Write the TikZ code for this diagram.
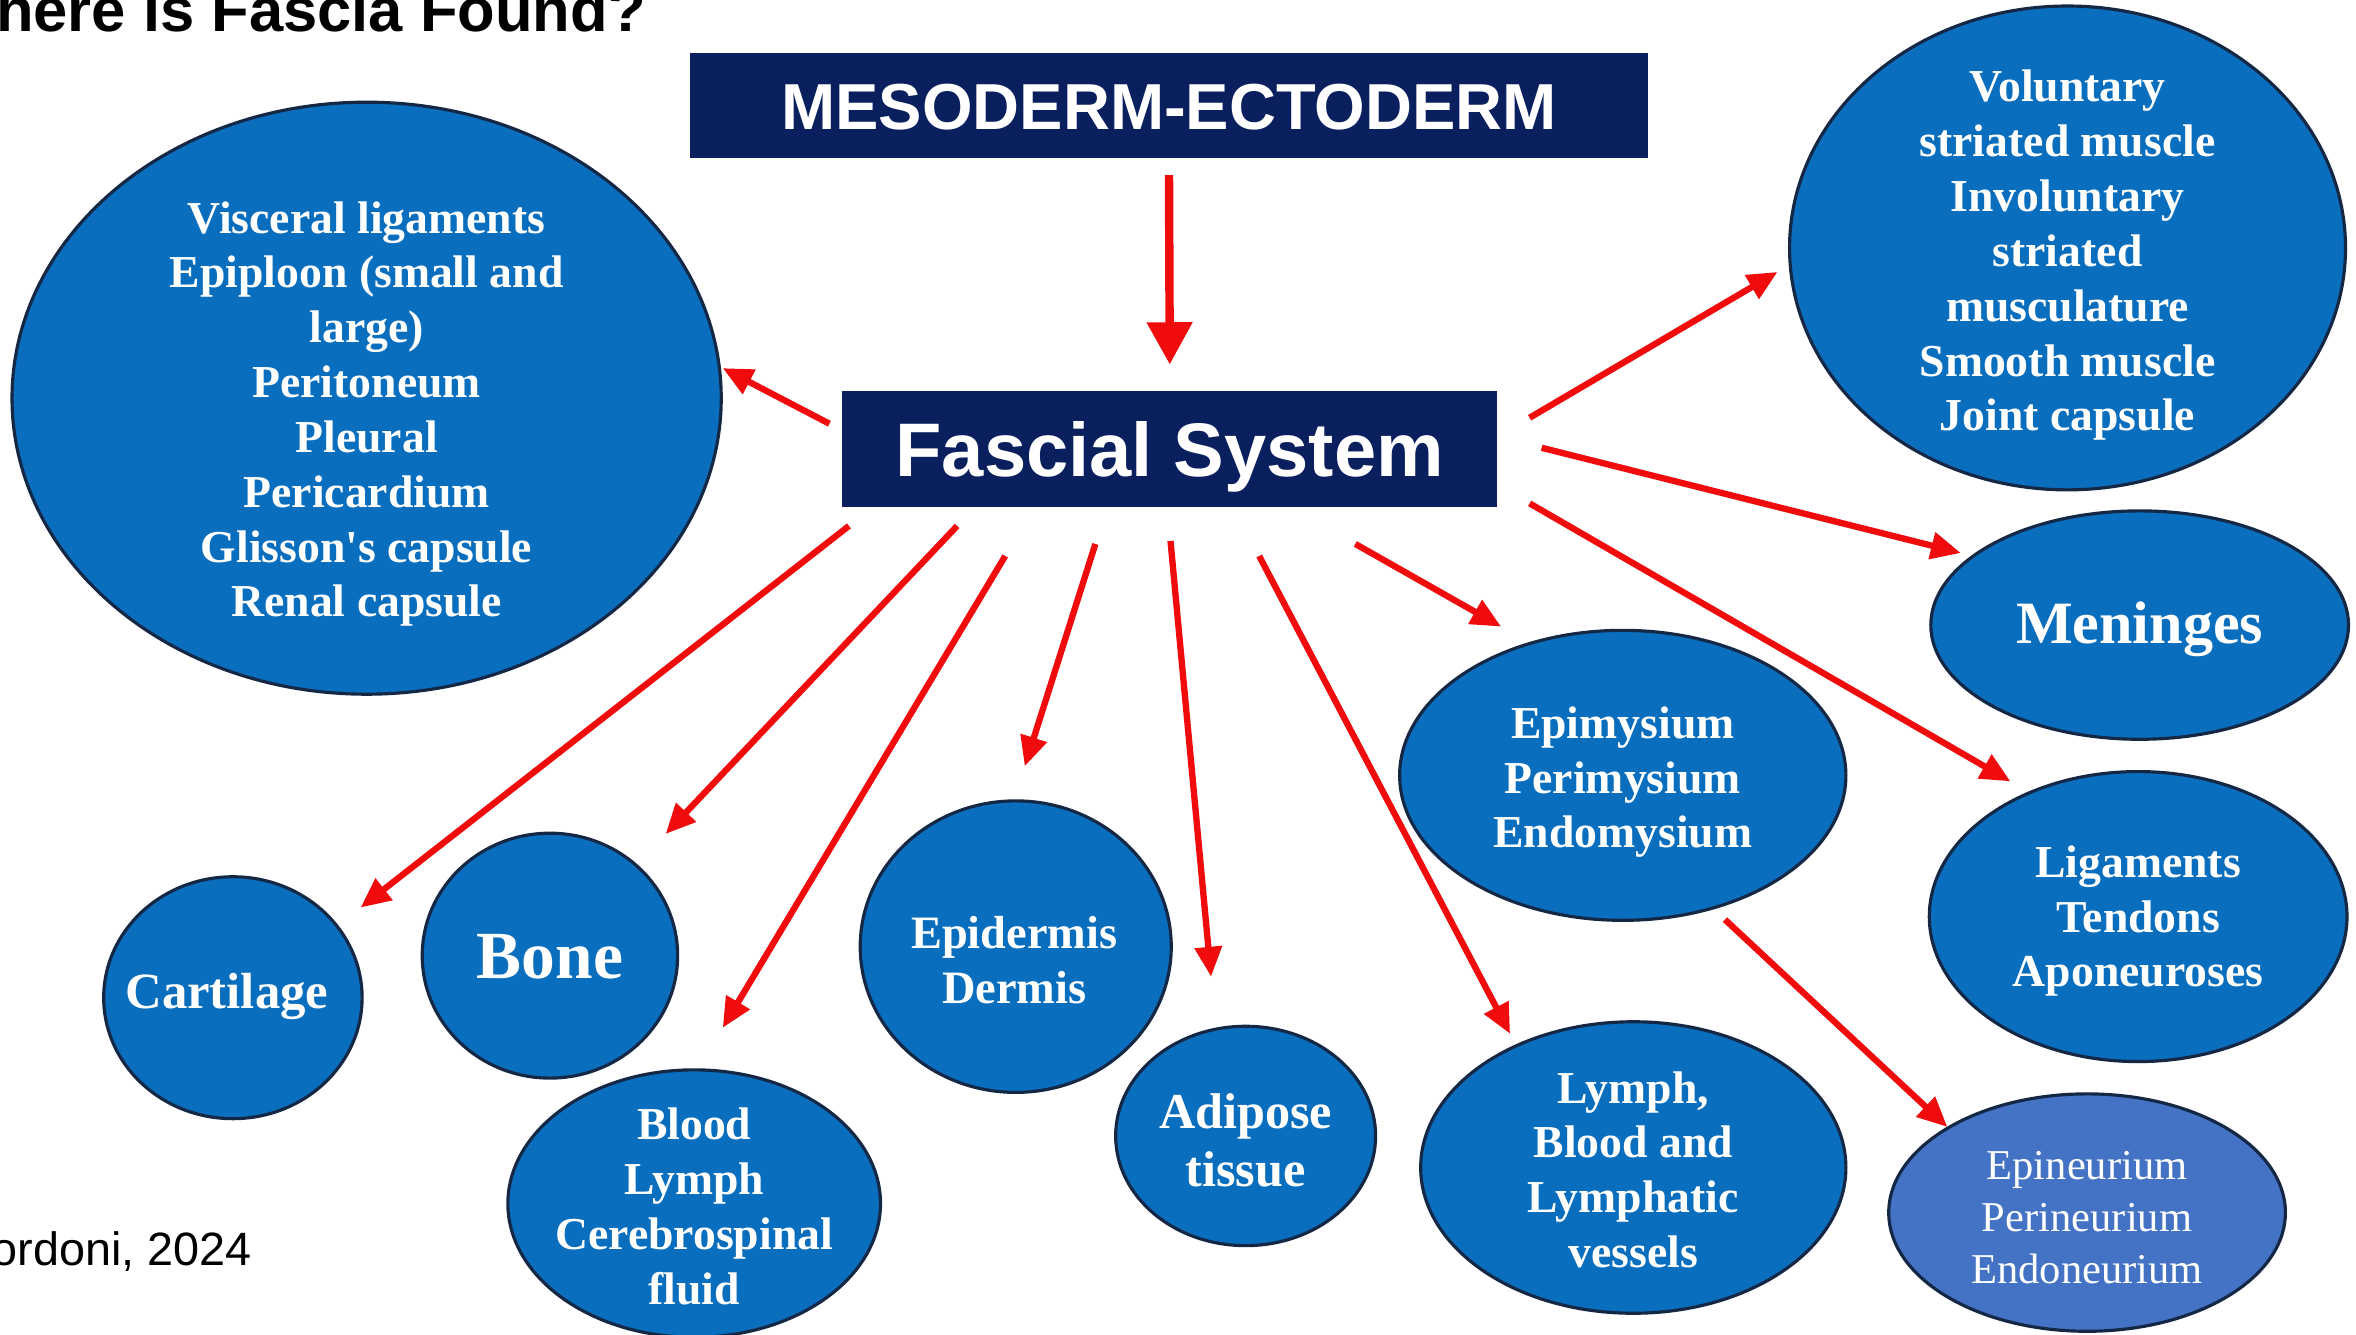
\documentclass[tikz,border=0pt]{standalone}
\usepackage{fontspec}
\setmainfont{Liberation Serif}
\newfontfamily\serf{Liberation Serif}
\newfontfamily\arialf{Liberation Sans}
\usetikzlibrary{shapes.geometric,arrows.meta,calc}
\definecolor{ellblue}{RGB}{10,110,190}
\definecolor{ellborder}{RGB}{20,40,70}
\definecolor{navy}{RGB}{10,32,94}
\definecolor{lightblue}{RGB}{68,114,196}
\definecolor{arrred}{RGB}{240,12,12}
\def\pxu{0.15026mm}
\begin{document}
\begin{tikzpicture}[x=0.15026mm,y=-0.15026mm,
  ell/.style={ellipse, draw=ellborder, line width=0.9pt, fill=ellblue, inner sep=0pt},
  etxt/.style={text=white, align=center, inner sep=0pt, font=\serf\bfseries\fontsize{13pt}{15.6pt}\selectfont},
  navybox/.style={fill=navy, draw=navy, inner sep=0pt, text=white},
  arr/.style={draw=arrred, line width=1.8pt, -{Triangle[length=8.5pt,width=7.5pt]}},
  bigarr/.style={draw=arrred, line width=2.4pt, -{Triangle[length=12pt,width=12.5pt]}},
]
\useasboundingbox (0,0) rectangle (1568,888);
\fill[white] (0,0) rectangle (1568,888);

% title and citation
\node[anchor=base west, inner sep=0pt, font=\arialf\bfseries\fontsize{17.5pt}{20pt}\selectfont] (title) at (-3,21) {here is Fascia Found?};
\node[anchor=base west, inner sep=0pt, font=\arialf\fontsize{13.3pt}{16pt}\selectfont] (cite) at (-6,842) {ordoni, 2024};

% boxes
\node[navybox, minimum width=636*\pxu, minimum height=69*\pxu, text height=13.2pt, text depth=0pt,
  font=\arialf\bfseries\fontsize{18.5pt}{20pt}\selectfont] (me) at (778,70.5) {MESODERM-ECTODERM};
\node[navybox, minimum width=435*\pxu, minimum height=76*\pxu, text height=15.5pt, text depth=0pt,
  font=\arialf\bfseries\fontsize{21.6pt}{24pt}\selectfont] (fs) at (778.5,299) {Fascial System};

% ellipses
\node[ell, minimum width=472*\pxu, minimum height=394*\pxu] (visc) at (244,265) {};
\node[etxt] (visct) at ($(visc)+(0,10.5)$) {Visceral ligaments\\Epiploon (small and\\large)\\Peritoneum\\Pleural\\Pericardium\\Glisson's capsule\\Renal capsule};

\node[ell, minimum width=370*\pxu, minimum height=322*\pxu] (vol) at (1376,165) {};
\node[etxt] (volt) at ($(vol)+(0,5)$) {Voluntary\\striated muscle\\Involuntary\\striated\\musculature\\Smooth muscle\\Joint capsule};

\node[ell, minimum width=278*\pxu, minimum height=152*\pxu] (men) at (1424,416) {};
\node[etxt, font=\serf\bfseries\fontsize{17.1pt}{20pt}\selectfont] (ment) at ($(men)+(0,3)$) {Meninges};

\node[ell, minimum width=278*\pxu, minimum height=193*\pxu] (lig) at (1423,610) {};
\node[etxt] (ligt) at ($(lig)+(0,3)$) {Ligaments\\Tendons\\Aponeuroses};

\node[ell, fill=lightblue, minimum width=264*\pxu, minimum height=158*\pxu] (epin) at (1389,807) {};
\node[etxt, font=\serf\fontsize{12.1pt}{14.75pt}\selectfont] (epint) at ($(epin)+(0,3.5)$) {Epineurium\\Perineurium\\Endoneurium};

\node[ell, minimum width=297*\pxu, minimum height=193*\pxu] (epim) at (1080,516) {};
\node[etxt] (epimt) at ($(epim)+(0,4.5)$) {Epimysium\\Perimysium\\Endomysium};

\node[ell, minimum width=283*\pxu, minimum height=194*\pxu] (lym) at (1087,777) {};
\node[etxt] (lymt) at ($(lym)+(0,1.5)$) {Lymph,\\Blood and\\Lymphatic\\vessels};

\node[ell, minimum width=173*\pxu, minimum height=146*\pxu] (adi) at (829,756) {};
\node[etxt, font=\serf\bfseries\fontsize{14.3pt}{16.7pt}\selectfont] (adit) at ($(adi)+(0,3)$) {Adipose\\tissue};

\node[ell, minimum width=207*\pxu, minimum height=194*\pxu] (epid) at (676,630) {};
\node[etxt, font=\serf\bfseries\fontsize{13.2pt}{15.6pt}\selectfont] (epidt) at ($(epid)+(-1,9)$) {Epidermis\\Dermis};

\node[ell, minimum width=248*\pxu, minimum height=178*\pxu] (blo) at (462,801) {};
\node[etxt] (blot) at ($(blo)+(0,2)$) {Blood\\Lymph\\Cerebrospinal\\fluid};

\node[ell, minimum width=170*\pxu, minimum height=163*\pxu] (bone) at (366,636) {};
\node[etxt, font=\serf\bfseries\fontsize{19.2pt}{22pt}\selectfont] (bonet) at ($(bone)+(0,1)$) {Bone};

\node[ell, minimum width=172*\pxu, minimum height=161*\pxu] (cart) at (155,664) {};
\node[etxt, font=\serf\bfseries\fontsize{14.45pt}{17pt}\selectfont] (cartt) at ($(cart)+(-4,-1)$) {Cartilage};

% arrows
\draw[bigarr] ($(me.south)+(0,11)$) -- ($(fs.north)+(0,-18)$);
\draw[arr] ($(fs)+(-226.5,-17)$) -- ($(visc)+(237,-20)$);
\draw[arr] ($(fs)+(239.5,-21)$) -- ($(vol)+(-193,16)$);
\draw[arr] ($(fs)+(247.5,-1)$) -- ($(men)+(-119,-48)$);
\draw[arr] ($(fs)+(239.5,36)$) -- ($(lig)+(-85,-90)$);
\draw[arr] ($(fs)+(123.5,63)$) -- ($(epim)+(-81,-99)$);
\draw[arr] ($(fs)+(59.5,71)$) -- ($(lym)+(-82,-89)$);
\draw[arr] ($(fs)+(0.5,61)$) -- ($(adi)+(-23,-106)$);
\draw[arr] ($(fs)+(-49.5,63)$) -- ($(epid)+(6,-120)$);
\draw[arr] ($(fs)+(-109.5,71)$) -- ($(blo)+(19,-117)$);
\draw[arr] ($(fs)+(-141.5,51)$) -- ($(bone)+(77,-81)$);
\draw[arr] ($(fs)+(-213.5,51)$) -- ($(cart)+(85,-60)$);
\draw[arr] ($(epim)+(68,96)$) -- ($(epin)+(-93,-57)$);
\end{tikzpicture}
\end{document}
